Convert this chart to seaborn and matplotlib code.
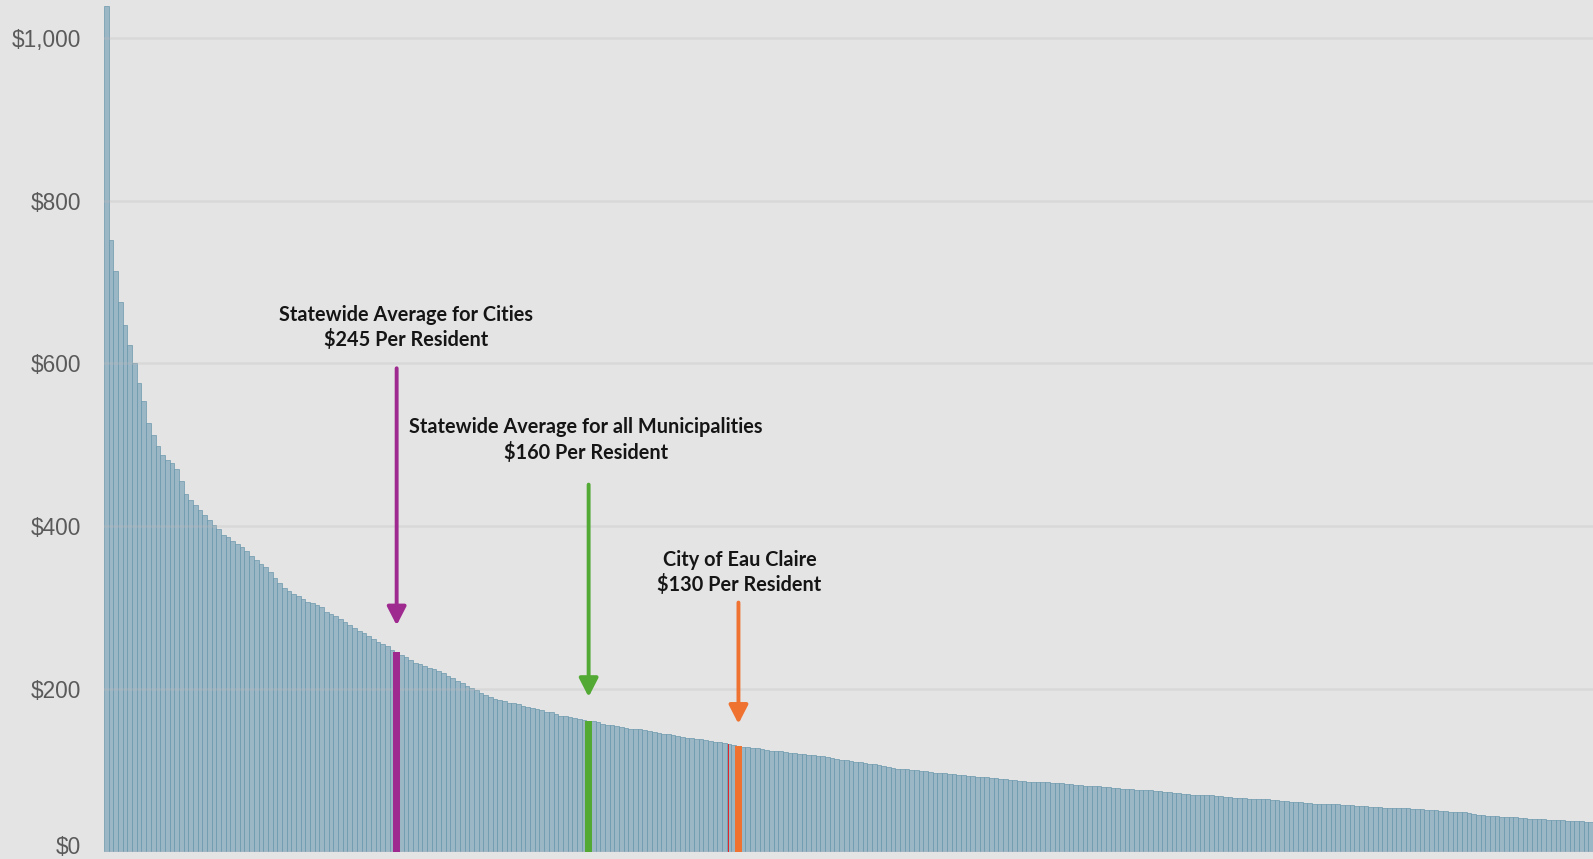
import numpy as np
import matplotlib
matplotlib.use("Agg")
import matplotlib.pyplot as plt
import matplotlib.transforms as mtransforms
import seaborn as sns

#### Data (spending per resident, sorted high to low)

per_resident = [
    1039, 752, 714, 676, 647, 622, 600, 576, 554, 527,
    512, 499, 488, 481, 477, 470, 455, 440, 432, 426,
    420, 414, 408, 401, 397, 389, 386, 382, 378, 374,
    369, 363, 358, 353, 350, 344, 336, 330, 324, 320,
    317, 314, 310, 307, 305, 303, 300, 295, 292, 289,
    286, 282, 278, 275, 271, 268, 265, 261, 258, 255,
    252, 248, 245, 242, 239, 235, 232, 230, 228, 226,
    224, 222, 219, 216, 213, 210, 207, 204, 201, 198,
    195, 192, 190, 188, 186, 185, 183, 182, 181, 179,
    178, 177, 175, 174, 172, 171, 169, 167, 166, 165,
    164, 163, 162, 160, 160, 159, 157, 155, 155, 154,
    153, 152, 151, 151, 150, 149, 148, 147, 146, 145,
    144, 143, 142, 141, 140, 139, 138, 138, 137, 136,
    135, 134, 133, 132, 131, 130, 129, 128, 127, 127,
    126, 125, 124, 123, 123, 122, 121, 121, 120, 120,
    119, 119, 118, 117, 116, 115, 114, 113, 112, 111,
    110, 110, 109, 108, 107, 106, 105, 104, 103, 102,
    102, 101, 100, 100, 99, 99, 98, 97, 97, 96,
    95, 95, 94, 94, 93, 93, 92, 92, 91, 90,
    90, 89, 89, 88, 88, 87, 87, 86, 86, 86,
    85, 85, 84, 84, 84, 83, 83, 82, 82, 81,
    81, 80, 80, 79, 79, 78, 78, 77, 77, 77,
    76, 76, 75, 75, 74, 74, 73, 73, 72, 72,
    71, 71, 70, 70, 69, 69, 69, 68, 68, 67,
    67, 66, 66, 66, 65, 65, 65, 64, 64, 63,
    63, 62, 62, 61, 61, 61, 60, 60, 59, 59,
    59, 58, 58, 58, 57, 57, 57, 56, 56, 56,
    55, 55, 55, 54, 54, 54, 53, 53, 53, 52,
    52, 52, 51, 51, 51, 50, 50, 49, 49, 48,
    48, 47, 46, 45, 45, 44, 44, 44, 43, 43,
    42, 42, 41, 41, 40, 40, 40, 40, 39, 39,
    39, 39, 38, 38, 37, 37, 36, 36,
]

# highlighted municipalities: position in the ranking
hl_rank = [62, 103, 135]
hl_label = [
    "Statewide Average for Cities\n$245 Per Resident",
    "Statewide Average for all Municipalities\n$160 Per Resident",
    "City of Eau Claire\n$130 Per Resident",
]
hl_color = ["#9f2a8f", "#52a934", "#ef7230"]
# arrow start / tip values and label centre value
arrow_top = [594, 451, 306]
arrow_tip = [278, 190, 157]
label_y = [644, 506, 343]
label_x = [64.0, 102.4, 135.2]

red_rank = 132.8
red_value = 132

yticks = [0, 200, 400, 600, 800, 1000]
ytick_labels = ["$0", "$200", "$400", "$600", "$800", "$1,000"]

#### Plot

bg = "#e4e4e4"
sns.set_style("white")
plt.rcParams["font.family"] = ["Liberation Sans", "DejaVu Sans"]

fig = plt.figure(figsize=(15.93, 8.59), dpi=100, facecolor=bg)
ax = fig.add_axes([104 / 1593, 7.5 / 859, 1489 / 1593, 851.5 / 859])
ax.set_facecolor(bg)

ranks = np.arange(len(per_resident))
sns.barplot(x=ranks, y=per_resident, color="#9bb6c5", saturation=1,
            edgecolor="#6393aa", linewidth=0.45, width=1.0, ax=ax, zorder=2)

for r, c in zip(hl_rank, hl_color):
    ax.bar(r, per_resident[r], width=1.64, color=c, linewidth=0, zorder=3)
ax.bar(red_rank, red_value, width=0.25, color="#e0262b", linewidth=0, zorder=3)

for r, c, top, tip, ly, lx, txt in zip(hl_rank, hl_color, arrow_top, arrow_tip,
                                       label_y, label_x, hl_label):
    ax.annotate("", xy=(r, tip), xytext=(r, top),
                arrowprops=dict(arrowstyle="-|>,head_width=0.36,head_length=0.7",
                                color=c, lw=2.8, shrinkA=0, shrinkB=0,
                                mutation_scale=16),
                zorder=4)
    ax.text(lx, ly, txt, ha="center", va="center", fontsize=14.3,
            fontweight="bold", family=["Lato", "Open Sans", "DejaVu Sans"],
            color="#151515", linespacing=1.26, zorder=5)

ax.set_xlim(-0.5, len(per_resident) - 0.5)
ax.set_ylim(0, 1046.7)
ax.set_yticks(yticks)
ax.set_yticklabels(ytick_labels)
ax.set_xticks([])
ax.set_xlabel("")
ax.set_ylabel("")
ax.tick_params(axis="y", length=0, pad=16.5, labelsize=16.3, labelcolor="#5a5a5a")
ax.grid(axis="y", color="#bdbdbd", alpha=0.3, linewidth=1.8, zorder=2.5)
ax.set_axisbelow(False)
for s in ax.spines.values():
    s.set_visible(False)

# lift the $0 label so it stays inside the figure
lbl0 = ax.get_yticklabels()[0]
lbl0.set_transform(lbl0.get_transform() + mtransforms.ScaledTranslation(0, 6 / 100, fig.dpi_scale_trans))

fig.savefig("out.png", dpi=100, facecolor=bg)
